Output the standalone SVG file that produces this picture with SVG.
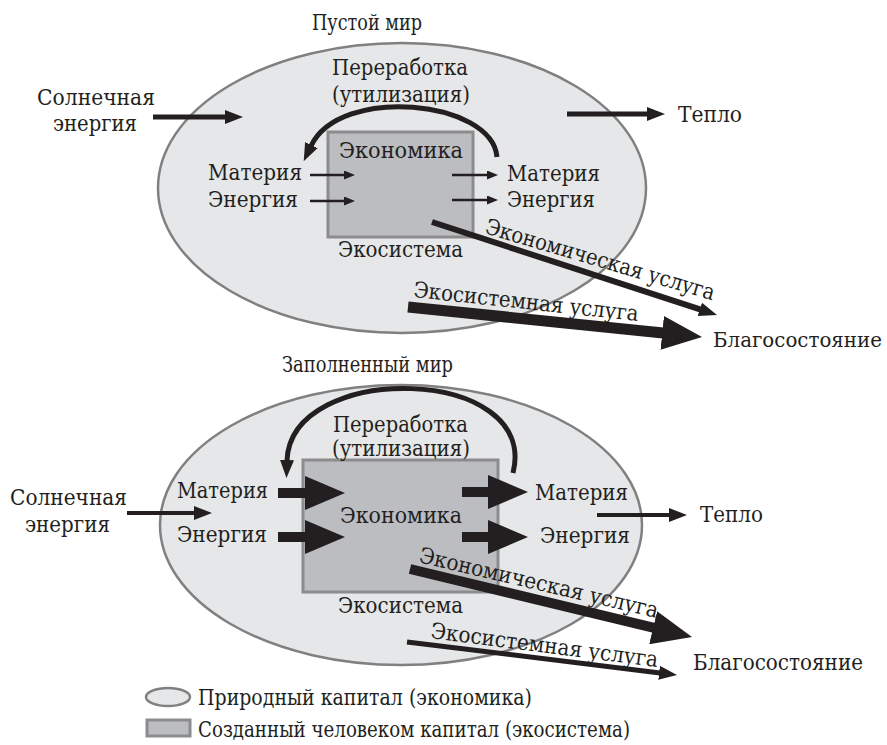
<svg xmlns="http://www.w3.org/2000/svg" width="887" height="745" viewBox="0 0 887 745">
<style>
  .t { font-family: 'DejaVu Serif', 'Liberation Serif', serif; font-size: 22px; fill: #231f20; }
  .nat { fill: #e6e7e8; stroke: #808080; stroke-width: 2.5; }
  .man { fill: #bcbdc0; stroke: #8c8c8c; stroke-width: 3; }
  .c { fill: none; stroke: #231f20; stroke-linecap: butt; }
  .s { stroke-width: 2.5; marker-end: url(#a1); }
  .m { stroke-width: 5; marker-end: url(#a2); }
  .l { stroke-width: 10; marker-end: url(#a3); }
</style>
<defs>
  <marker id="a1" markerUnits="userSpaceOnUse" markerWidth="11" markerHeight="9" refX="1" refY="4.5" orient="auto"><path d="M0,0 L11,4.5 L0,9 z" fill="#231f20"/></marker>
  <marker id="a2" markerUnits="userSpaceOnUse" markerWidth="18" markerHeight="14" refX="1" refY="7" orient="auto"><path d="M0,0 L18,7 L0,14 z" fill="#231f20"/></marker>
  <marker id="a3" markerUnits="userSpaceOnUse" markerWidth="40" markerHeight="34" refX="1" refY="17" orient="auto"><path d="M0,0 L40,17 L0,34 z" fill="#231f20"/></marker>
</defs>

<!-- Top: empty world -->
<g id="empty-world-nature"><ellipse class="nat" cx="402" cy="188" rx="244" ry="145"/></g>
<g id="empty-world-economy"><rect class="man" x="328" y="132" width="145" height="105"/></g>

<!-- Bottom: full world -->
<g id="full-world-nature"><ellipse class="nat" cx="401" cy="525" rx="241" ry="140"/></g>
<g id="full-world-economy"><rect class="man" x="303" y="460" width="195" height="132"/></g>

<g id="connectors">
  <!-- top -->
  <line class="c m" x1="153" y1="117" x2="226" y2="117"/>
  <line class="c m" x1="567" y1="114" x2="648" y2="114"/>
  <line class="c s" x1="310" y1="175" x2="345" y2="175"/>
  <line class="c s" x1="310" y1="201" x2="345" y2="201"/>
  <line class="c s" x1="452" y1="175" x2="488" y2="175"/>
  <line class="c s" x1="452" y1="200" x2="488" y2="200"/>
  <path class="c m" d="M497,157 C492,100 340,85 311,146"/>
  <line class="c m" style="stroke-width:6" x1="432" y1="222" x2="700.8" y2="309.7"/>
  <line class="c l" style="stroke-width:11" x1="408" y1="307" x2="663.2" y2="333"/>
  <!-- bottom -->
  <line class="c m" style="stroke-width:4" x1="127" y1="513" x2="195" y2="513"/>
  <line class="c m" style="stroke-width:4" x1="597" y1="515" x2="670" y2="515"/>
  <line class="c l" x1="278" y1="493" x2="306" y2="493"/>
  <line class="c l" x1="278" y1="537" x2="306" y2="537"/>
  <line class="c l" x1="462" y1="492" x2="489" y2="492"/>
  <line class="c l" x1="462" y1="537" x2="489" y2="537"/>
  <path class="c m" d="M513,473 C540,365 290,360 287,461"/>
  <line class="c l" x1="410" y1="569" x2="654.1" y2="627.9"/>
  <line class="c m" x1="407" y1="642" x2="660.1" y2="672.9"/>
</g>

<g id="labels-top" class="t">
  <text x="312" y="30" textLength="110" lengthAdjust="spacingAndGlyphs">Пустой мир</text>
  <text x="37" y="105" textLength="118" lengthAdjust="spacingAndGlyphs">Солнечная</text>
  <text x="53" y="131" textLength="84" lengthAdjust="spacingAndGlyphs">энергия</text>
  <text x="332" y="75" textLength="136" lengthAdjust="spacingAndGlyphs">Переработка</text>
  <text x="332" y="102" textLength="138" lengthAdjust="spacingAndGlyphs">(утилизация)</text>
  <text x="339" y="158" textLength="124" lengthAdjust="spacingAndGlyphs">Экономика</text>
  <text x="208" y="180" textLength="94" lengthAdjust="spacingAndGlyphs">Материя</text>
  <text x="208" y="207" textLength="90" lengthAdjust="spacingAndGlyphs">Энергия</text>
  <text x="507" y="181" textLength="93" lengthAdjust="spacingAndGlyphs">Материя</text>
  <text x="507" y="207" textLength="88" lengthAdjust="spacingAndGlyphs">Энергия</text>
  <text x="678" y="122" textLength="64" lengthAdjust="spacingAndGlyphs">Тепло</text>
  <text x="338" y="257" textLength="125" lengthAdjust="spacingAndGlyphs">Экосистема</text>
  <text transform="translate(484,233) rotate(16.4)" textLength="238" lengthAdjust="spacingAndGlyphs">Экономическая услуга</text>
  <text transform="translate(413,297) rotate(6.1)" textLength="226" lengthAdjust="spacingAndGlyphs">Экосистемная услуга</text>
  <text x="713" y="347" style="font-size:20px" textLength="169" lengthAdjust="spacingAndGlyphs">Благосостояние</text>
</g>

<g id="labels-bottom" class="t">
  <text x="282" y="372" textLength="171" lengthAdjust="spacingAndGlyphs">Заполненный мир</text>
  <text x="10" y="505" textLength="117" lengthAdjust="spacingAndGlyphs">Солнечная</text>
  <text x="25" y="532" textLength="85" lengthAdjust="spacingAndGlyphs">энергия</text>
  <text x="333" y="432" textLength="135" lengthAdjust="spacingAndGlyphs">Переработка</text>
  <text x="332" y="456" textLength="138" lengthAdjust="spacingAndGlyphs">(утилизация)</text>
  <text x="177" y="498" textLength="91" lengthAdjust="spacingAndGlyphs">Материя</text>
  <text x="177" y="542" textLength="90" lengthAdjust="spacingAndGlyphs">Энергия</text>
  <text x="340" y="523" textLength="122" lengthAdjust="spacingAndGlyphs">Экономика</text>
  <text x="535" y="500" textLength="93" lengthAdjust="spacingAndGlyphs">Материя</text>
  <text x="540" y="543" textLength="90" lengthAdjust="spacingAndGlyphs">Энергия</text>
  <text x="700" y="522" textLength="63" lengthAdjust="spacingAndGlyphs">Тепло</text>
  <text x="338" y="613" textLength="125" lengthAdjust="spacingAndGlyphs">Экосистема</text>
  <text transform="translate(418,562) rotate(13.2)" textLength="245" lengthAdjust="spacingAndGlyphs">Экономическая услуга</text>
  <text transform="translate(430,638) rotate(7.3)" textLength="229" lengthAdjust="spacingAndGlyphs">Экосистемная услуга</text>
  <text x="693" y="670" textLength="170" lengthAdjust="spacingAndGlyphs">Благосостояние</text>
</g>

<g id="legend-natural">
  <ellipse class="nat" cx="168" cy="697" rx="22" ry="9"/>
  <text class="t" x="198" y="705" textLength="334" lengthAdjust="spacingAndGlyphs">Природный капитал (экономика)</text>
</g>
<g id="legend-manmade">
  <rect class="man" x="147" y="720" width="43" height="16"/>
  <text class="t" x="198" y="737" textLength="432" lengthAdjust="spacingAndGlyphs">Созданный человеком капитал (экосистема)</text>
</g>
</svg>
